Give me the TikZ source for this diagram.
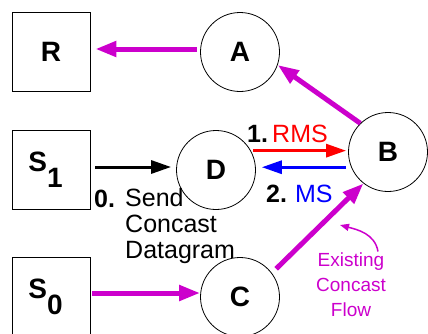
\documentclass[tikz,border=0pt]{standalone}
\usepackage{fontspec}
\setmainfont{Liberation Sans}
\usetikzlibrary{arrows.meta}
\definecolor{flow}{RGB}{204,0,204}

\begin{document}
\begin{tikzpicture}[x=1pt,y=-1pt,
  host/.style={draw, line width=0.8pt, minimum width=78pt, minimum height=79pt,
    inner sep=0pt, font=\fontsize{28}{28}\selectfont\bfseries},
  router/.style={draw, circle, line width=0.8pt, minimum size=79pt, inner sep=0pt,
    font=\fontsize{28}{28}\selectfont\bfseries},
  flowarrow/.style={draw=flow, line width=5pt, -{Triangle[length=21pt,width=15pt,fill=flow]}},
  msgarrow/.style={line width=3pt, -{Triangle[length=20pt,width=13pt]}},
  lbl/.style={font=\fontsize{25}{25.8}\selectfont, inner sep=0pt},
]
\useasboundingbox (0,0) rectangle (428,333);

% hosts and routers
\node[host]   (R)  at (51,52)  {R};
\node[router] (A)  at (240,52) {A};
\node[host]   (S1) at (51,170) {S\raisebox{-16pt}{1}\hspace*{11pt}};
\node[router] (D)  at (216,170) {D};
\node[router] (B)  at (388,152) {B};
\node[host]   (S0) at (51,297) {S\raisebox{-16pt}{0}\hspace*{11pt}};
\node[router] (C)  at (240,297) {C};

% existing concast flow
\draw[flowarrow, shorten <=3pt, shorten >=5pt] ([yshift=3pt]A.west) -- ([yshift=3pt]R.east);
\draw[flowarrow] (B.134) -- (A.-19);
\draw[flowarrow, shorten <=6pt] (C.37) -- (B.232);
\draw[flowarrow, shorten <=2pt] ([yshift=4pt]S0.east) -- ([yshift=4pt]C.west);

% signalling
\draw[msgarrow, black, shorten <=5pt, shorten >=5pt] ([yshift=3pt]S1.east) -- ([yshift=3pt]D.west);
\draw[msgarrow, red, shorten <=2.5pt, shorten >=2pt] (D.29) -- (D.29 -| B.west);
\draw[msgarrow, blue, shorten <=2pt, shorten >=6pt] (D.4 -| B.west) -- (D.4);

% labels
\node[lbl, anchor=base west] (l1) at (247,142) {\textbf{1.}\,\textcolor{red}{RMS}};
\node[lbl, anchor=base west] (l2) at (266,202) {\textbf{2.}\hspace{8pt}\textcolor{blue}{MS}};
\node[lbl, anchor=base west] (l0) at (94,207) {\textbf{0.}};
\node[lbl, anchor=north west, align=left] (send) at (125,188.5) {Send\\Concast\\Datagram};

\node[text=flow, font=\fontsize{19}{25}\selectfont, align=center, inner sep=0pt, anchor=north]
  (ecf) at (351,252.5) {Existing\\Concast\\Flow};
\coordinate (cf) at (340,225);
\draw[flow, line width=1.5pt, -{Triangle[length=9pt,width=7pt]}]
  ([xshift=27pt,yshift=1pt]ecf.north) to[out=100,in=-15] (cf);
\end{tikzpicture}
\end{document}
